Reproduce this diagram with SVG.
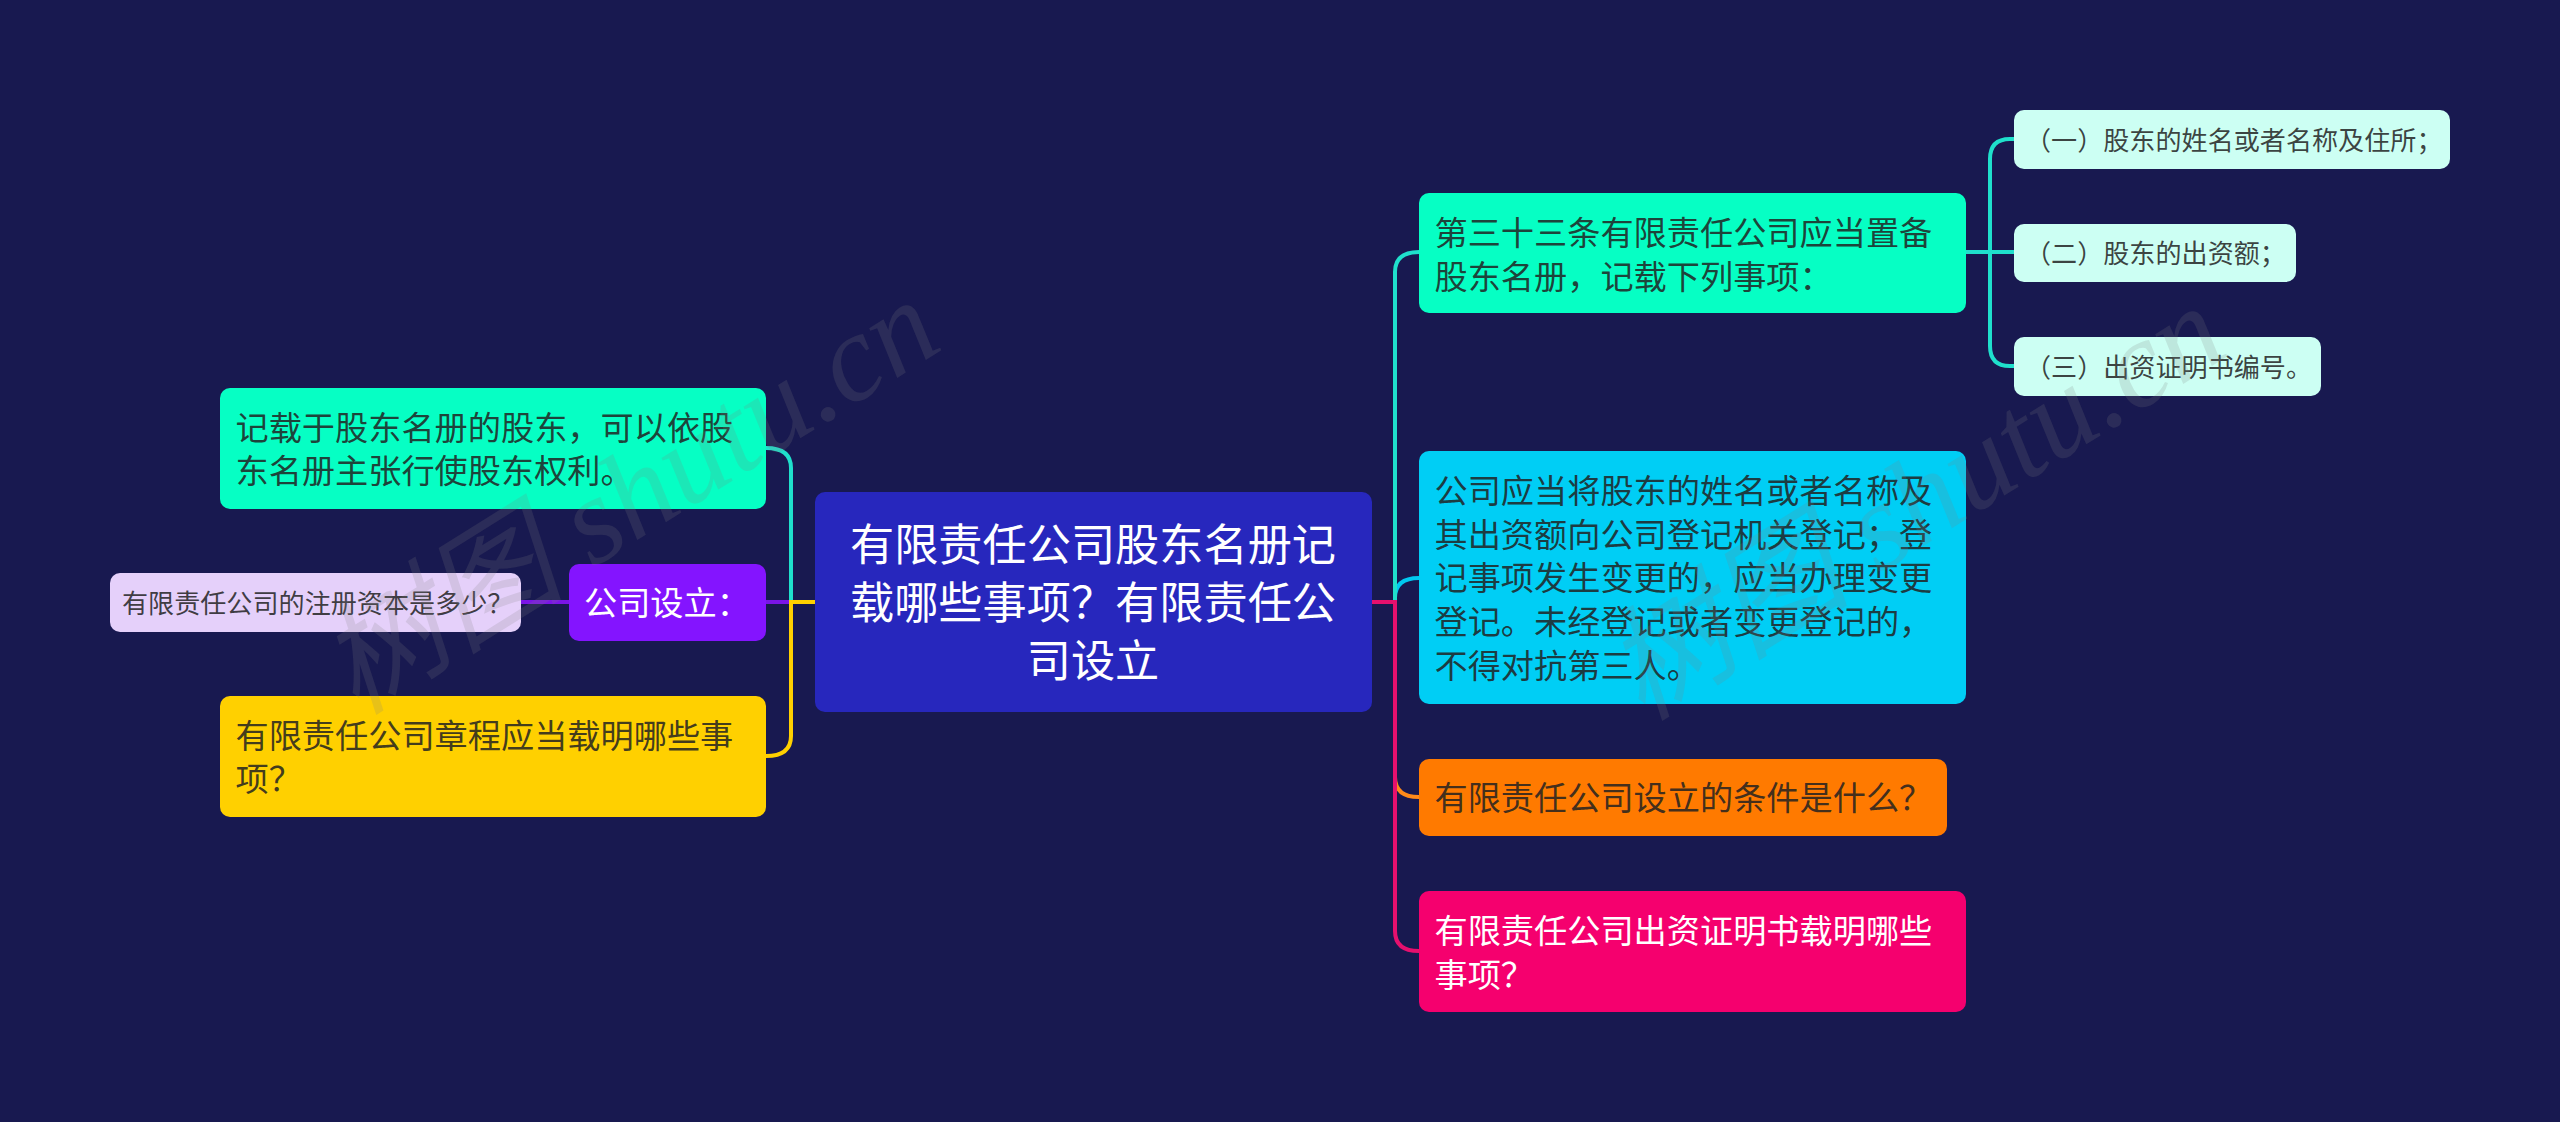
<svg xmlns="http://www.w3.org/2000/svg" width="2560" height="1122" viewBox="0 0 2560 1122">
<style>
text{font-family:"Noto Sans CJK SC","Noto Sans CJK JP",sans-serif}
.t33{font-size:33.200px;fill:#222;fill-opacity:.85}
.t26{font-size:26.100px;fill:#222;fill-opacity:.85}
.w{fill:#fff;fill-opacity:1}
.c{font-size:44.200px;fill:#fff;text-anchor:middle}
.link{fill:none;stroke-width:4}
.wm{font-family:"Liberation Serif","Noto Sans CJK SC",serif;font-style:italic;font-size:124px;fill:#808080;fill-opacity:.19}
</style>
<rect id="background" width="2560" height="1122" fill="#181950"/>
<g id="connectors">
<path class="link" stroke="#1fe0cc" d="M791 602V468Q791 448 766 448"/>
<path class="link" stroke="#7a14e6" stroke-width="5" d="M520 602H569M766 602H791"/>
<path class="link" stroke="#ffd000" d="M815 602H791V736Q791 756 766 756"/>
<path class="link" stroke="#00c8f0" d="M1395 602V598Q1395 578 1419 578"/>
<path class="link" stroke="#ff8a1a" d="M1395 602V777Q1395 797 1419 797"/>
<path class="link" stroke="#1fe0cc" d="M1395 602V272Q1395 252 1419 252"/>
<path class="link" stroke="#e6106e" d="M1372 602H1395V931Q1395 951 1419 951"/>
<path class="link" stroke="#1fe0cc" d="M1965 252H2014M2014 139H2010Q1990 139 1990 159V346Q1990 366 2010 366H2014"/>
</g>
<g id="root"><rect x="815" y="492" width="557" height="220" rx="10" fill="#2727bd"/>
<text class="c" x="1093" y="561">有限责任公司股东名册记</text>
<text class="c" x="1093" y="619">载哪些事项？有限责任公</text>
<text class="c" x="1093" y="677">司设立</text></g>
<g id="left1"><rect x="220" y="388" width="546" height="121" rx="10" fill="#06ffc4"/>
<text class="t33" x="235.500" y="439.500">记载于股东名册的股东，可以依股</text>
<text class="t33" x="235.500" y="482.500">东名册主张行使股东权利。</text></g>
<g id="left2"><rect x="569" y="564" width="197" height="77" rx="10" fill="#8414ff"/>
<text class="t33 w" x="584" y="614.500">公司设立：</text></g>
<g id="left2a"><rect x="110" y="573" width="411" height="59" rx="10" fill="#e5d0fa"/>
<text class="t26" x="122" y="613">有限责任公司的注册资本是多少？</text></g>
<g id="left3"><rect x="220" y="696" width="546" height="121" rx="10" fill="#ffd000"/>
<text class="t33" x="235.500" y="747.500">有限责任公司章程应当载明哪些事</text>
<text class="t33" x="235.500" y="790.500">项？</text></g>
<g id="right1"><rect x="1419" y="193" width="547" height="120" rx="10" fill="#06ffc4"/>
<text class="t33" x="1434.500" y="244.500">第三十三条有限责任公司应当置备</text>
<text class="t33" x="1434.500" y="288.500">股东名册，记载下列事项：</text></g>
<g id="right1a"><rect x="2014" y="110" width="436" height="59" rx="10" fill="#ccfff3"/>
<text class="t26" x="2025" y="149.500">（一）股东的姓名或者名称及住所；</text></g>
<g id="right1b"><rect x="2014" y="224" width="282" height="58" rx="10" fill="#ccfff3"/>
<text class="t26" x="2025" y="263">（二）股东的出资额；</text></g>
<g id="right1c"><rect x="2014" y="337" width="307" height="59" rx="10" fill="#ccfff3"/>
<text class="t26" x="2025" y="376.500">（三）出资证明书编号。</text></g>
<g id="right2"><rect x="1419" y="451" width="547" height="253" rx="10" fill="#00cef5"/>
<text class="t33" x="1434.500" y="502.500">公司应当将股东的姓名或者名称及</text>
<text class="t33" x="1434.500" y="546.500">其出资额向公司登记机关登记；登</text>
<text class="t33" x="1434.500" y="590">记事项发生变更的，应当办理变更</text>
<text class="t33" x="1434.500" y="634">登记。未经登记或者变更登记的，</text>
<text class="t33" x="1434.500" y="677.500">不得对抗第三人。</text></g>
<g id="right3"><rect x="1419" y="759" width="528" height="77" rx="10" fill="#ff7a00"/>
<text class="t33" x="1434.500" y="810">有限责任公司设立的条件是什么？</text></g>
<g id="right4"><rect x="1419" y="891" width="547" height="121" rx="10" fill="#f5006e"/>
<text class="t33 w" x="1434.500" y="942.500">有限责任公司出资证明书载明哪些</text>
<text class="t33 w" x="1434.500" y="986.500">事项？</text></g>
<g id="watermarks">
<text class="wm" transform="translate(356 716) rotate(-32)">树图 shutu.cn</text>
<text class="wm" transform="translate(1642 722) rotate(-32)">树图 shutu.cn</text>
</g>
</svg>
